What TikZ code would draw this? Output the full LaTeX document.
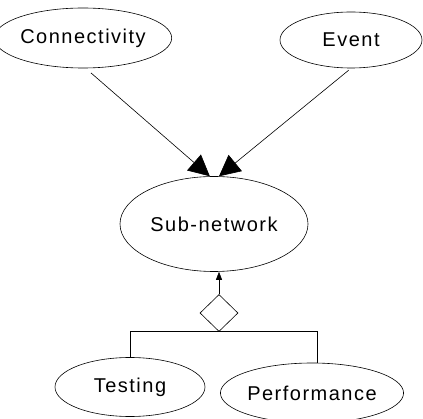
\documentclass[tikz,border=0pt]{standalone}
\usepackage{fontspec}
\setmainfont{Liberation Sans}[LetterSpace=7.5]
\usetikzlibrary{arrows.meta,shapes.geometric}

\begin{document}
\begin{tikzpicture}[x=1pt,y=-1pt,
    ent/.style={ellipse,draw,inner sep=0pt},
    big/.style={-{Triangle[length=21pt,width=21pt]}},
    small/.style={-{Triangle[length=8pt,width=6pt]}}]
\useasboundingbox (0,0) rectangle (423,419);
\begin{scope}[every node/.style={font=\fontsize{20}{24}\selectfont}, line width=0.6pt]
    \node [ent, minimum width=153, minimum height=60] (conn) at (83,38) {Connectivity};
    \node [ent, minimum width=142, minimum height=56] (event) at (351,40) {Event};
    \node [ent, minimum width=188, minimum height=95] (sub) at (214,224) {Sub-network};
    \node [ent, minimum width=150, minimum height=59] (test) at (130,387) {Testing};
    \node [ent, minimum width=150, minimum height=60] (perf) at (312,393) {Performance};
    \node [diamond, draw, inner sep=0pt, minimum width=38, minimum height=37] (dia) at (219,313) {};

    \draw [big, shorten <=7pt] (conn.-85) -- (sub.95);
    \draw [big, shorten <=3pt] (event.south) -- (sub.84);
    \draw [small] (dia.north) -- (dia.north |- sub.south);
    \draw (test.north) |- (dia.south) -| (perf.80);
\end{scope}
\end{tikzpicture}
\end{document}
